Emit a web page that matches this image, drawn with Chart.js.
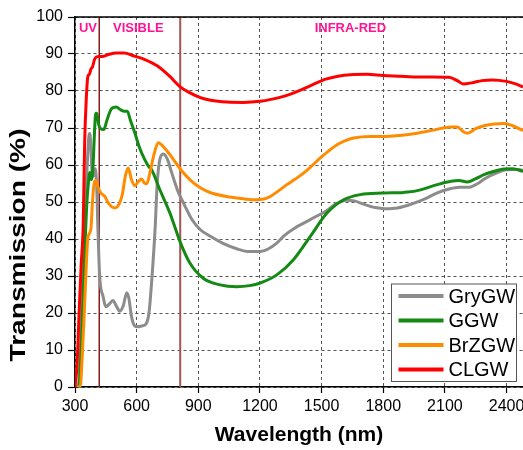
<!DOCTYPE html>
<html>
<head>
<meta charset="utf-8">
<script src="https://cdn.jsdelivr.net/npm/chart.js@4.4.1/dist/chart.umd.min.js"></script>
<style>
html,body{margin:0;padding:0;background:#fff;}
#wrap{width:523px;height:450px;position:relative;}
</style>
</head>
<body>
<div id="wrap"><canvas id="c" width="523" height="450"></canvas></div>
<script>
// ---- data ----
const SERIES_NAMES = ['GryGW', 'GGW', 'BrZGW', 'CLGW'];
const SERIES_COLORS = ['#8c8c8c', '#138a13', '#ff8c00', '#ff0000'];

const GRY_WL = [300,315,325,335,345,355,362,368,372,377,383,390,398,405,412,420,437,450,468,485,500,518,535,552,562,575,591,605,625,645,660,675,690,700,715,730,750,770,800,830,870,910,960,1020,1090,1150,1200,1240,1280,1320,1370,1420,1470,1520,1570,1620,1660,1700,1760,1810,1870,1940,2000,2060,2120,2170,2220,2260,2300,2350,2400,2450,2480];
const GRY_T  = [0,0,8,25,42,55,63,68,68.5,65,58,57,59,55,42,30,24.4,21.7,22.5,23.4,22,20.5,22,25.5,24,19,16.5,16.3,16.5,17,20,30,43,55,62,63,61.5,58,53,49.5,45.2,42.5,40.7,38.8,37.3,36.6,36.6,37.3,38.8,41,43,44.5,46,47.5,49.5,50.5,50.3,49.5,48.5,48.2,48.4,49.5,50.8,52.4,53.5,54,54,55,56.5,57.8,58.7,58.8,58.6];

const GGW_WL = [300,318,330,340,350,358,365,372,380,388,395,401,406,415,425,440,455,475,500,520,540,555,570,591,615,640,660,673,713,762,811,859,924,1006,1087,1150,1201,1282,1363,1445,1526,1607,1689,1800,1900,1960,2063,2130,2169,2209,2250,2290,2340,2388,2430,2480];
const GGW_T  = [0,0,10,25,40,50,55,58,56,60,69,74,74,71,69.8,69.6,72,75,75.7,75,74.5,74.5,72,68.7,64.5,61.4,59.5,58.7,53.3,47,39.3,33.5,29.4,27.6,27.1,27.4,28.1,30.3,34.4,40.7,47,50.6,52,52.4,52.6,53,54.7,55.6,55.8,55.4,56.3,57.4,58.3,58.9,59,58.3];

const BRZ_WL = [300,325,335,345,355,362,370,378,385,393,402,412,425,445,465,494,515,530,545,559,575,591,608,624,640,650,665,685,705,720,762,811,860,908,960,1038,1100,1168,1220,1250,1290,1331,1372,1412,1453,1494,1535,1575,1616,1656,1737,1801,1880,1965,2050,2128,2160,2190,2209,2250,2290,2340,2388,2430,2480];
const BRZ_T  = [0,0,8,20,33,40,41.5,43,50,55,55.8,54,52.5,51.5,49.5,48.4,49.5,52,57,59.2,56,54.4,55.5,56.2,55,55,58,63,66,65.5,62.8,59,56,53.9,52.5,51.5,51,50.6,50.8,51.5,53,54.7,56.2,57.8,59.8,61.9,63.8,65.5,66.6,67.3,67.7,67.7,68,68.6,69.5,70.3,70.3,69,68.6,69.8,70.6,71.1,71.2,70.6,69.3];

const CLG_WL = [300,310,320,330,340,347,355,363,370,378,385,395,405,420,440,460,500,540,580,640,700,760,810,860,910,960,1040,1120,1200,1260,1320,1400,1460,1520,1580,1640,1720,1800,1880,1960,2040,2120,2160,2190,2230,2280,2330,2400,2440,2480];
const CLG_T  = [0,6,20,33,44,66,78,84,84.5,86,86.5,88.5,89.2,89.3,89.4,89.8,90.3,90.3,89.6,88.5,86.8,84,81.2,79.5,78.2,77.5,77,76.9,77.2,77.8,78.6,80.3,81.8,83.2,84,84.4,84.5,84.2,84,83.8,83.8,83.7,82.8,81.9,82.2,82.8,83,82.6,82,81.1];

const REGION_LINES = [418, 812];
const REGION_LABELS = ['UV', 'VISIBLE', 'INFRA-RED'];
const REGION_LABEL_X = [363, 608, 1640];

const X_TICKS = [300, 600, 900, 1200, 1500, 1800, 2100, 2400];
const X_MIN = 300, X_MAX = 2480;
const Y_MIN = 0, Y_MAX = 100, Y_STEP = 10;
const X_TITLE = 'Wavelength (nm)';
const Y_TITLE = 'Transmission (%)';

// ---- build ----
const FONT = "'Liberation Sans', Arial, sans-serif";
function pts(wl, t){ return wl.map((w,i)=>({x:w, y:t[i]})); }
const seriesData = [pts(GRY_WL,GRY_T), pts(GGW_WL,GGW_T), pts(BRZ_WL,BRZ_T), pts(CLG_WL,CLG_T)];
const drawOrder = [3,2,1,0];

const datasets = seriesData.map((d,i)=>({
  label: SERIES_NAMES[i],
  data: d,
  borderColor: SERIES_COLORS[i],
  backgroundColor: SERIES_COLORS[i],
  borderWidth: 3,
  pointRadius: 0,
  fill: false,
  cubicInterpolationMode: 'monotone',
  order: drawOrder[i]
}));

const decor = {
  id: 'decor',
  beforeDatasetsDraw(chart){
    const {ctx, chartArea:a, scales:{x}} = chart;
    ctx.save();
    const cols = ['#8b1a1a', '#a65454'];
    const wid = [1.5, 2];
    REGION_LINES.forEach((v,i)=>{
      const px = x.getPixelForValue(v);
      ctx.strokeStyle = cols[i]; ctx.lineWidth = wid[i];
      ctx.beginPath(); ctx.moveTo(px, a.top); ctx.lineTo(px, a.bottom); ctx.stroke();
    });
    ctx.restore();
  },
  afterDatasetsDraw(chart){
    const {ctx, chartArea:a, scales:{x}} = chart;
    ctx.save();
    // top border
    ctx.strokeStyle = '#000'; ctx.lineWidth = 1.5;
    ctx.beginPath(); ctx.moveTo(a.left, a.top); ctx.lineTo(a.right, a.top); ctx.stroke();
    // region labels
    ctx.fillStyle = '#ff1493';
    ctx.font = "bold 13px " + FONT;
    ctx.textAlign = 'center'; ctx.textBaseline = 'middle';
    REGION_LABELS.forEach((t,i)=>{
      ctx.fillText(t, x.getPixelForValue(REGION_LABEL_X[i]), a.top + 11);
    });
    // legend
    const bx = 391.5, by = 284, bw = 125, bh = 97.5;
    ctx.fillStyle = '#fff'; ctx.fillRect(bx, by, bw, bh);
    ctx.strokeStyle = '#555'; ctx.lineWidth = 1;
    ctx.strokeRect(bx, by, bw, bh);
    ctx.font = "20px " + FONT;
    ctx.textAlign = 'left'; ctx.textBaseline = 'middle';
    SERIES_NAMES.forEach((n,i)=>{
      const yy = by + 12 + i*24.5;
      ctx.strokeStyle = SERIES_COLORS[i]; ctx.lineWidth = 4;
      ctx.beginPath(); ctx.moveTo(bx + 7, yy); ctx.lineTo(bx + 52, yy); ctx.stroke();
      ctx.fillStyle = '#000';
      ctx.fillText(n, bx + 57, yy + 1);
    });
    // y axis title (stretched along its length like the reference)
    ctx.translate(19, 245);
    ctx.rotate(-Math.PI/2);
    ctx.font = "bold 22px " + FONT;
    const w = ctx.measureText(Y_TITLE).width;
    ctx.scale(233 / w, 1);
    ctx.fillStyle = '#000';
    ctx.textAlign = 'center'; ctx.textBaseline = 'middle';
    ctx.fillText(Y_TITLE, 0, 0);
    ctx.restore();
  }
};

new Chart(document.getElementById('c'), {
  type: 'line',
  data: { datasets },
  plugins: [decor],
  options: {
    responsive: false,
    animation: false,
    layout: { padding: { top: 17, right: 0, left: 0, bottom: 0 } },
    plugins: { legend: { display: false }, tooltip: { enabled: false } },
    scales: {
      x: {
        type: 'linear', min: X_MIN, max: X_MAX,
        afterFit(s){ s.height = 63; s.paddingRight = 0; s.paddingLeft = 0; },
        afterBuildTicks(s){ s.ticks = X_TICKS.map(v=>({value:v})); },
        ticks: { color: '#000', font: { family: FONT, size: 16 }, padding: 4, maxRotation: 0, autoSkip: false,
                 callback: (v) => String(v) },
        grid: { color: '#555', lineWidth: 1, tickColor: '#000', tickLength: 6, tickWidth: 1.2 },
        border: { color: '#000', width: 1.5, dash: [3,3] },
        title: { display: true, text: X_TITLE, color: '#000', font: { family: FONT, size: 21, weight: 'bold' }, padding: { top: 0, bottom: 2 } }
      },
      y: {
        type: 'linear', min: Y_MIN, max: Y_MAX,
        afterFit(s){ s.width = 75; },
        ticks: { stepSize: Y_STEP, color: '#000', font: { family: FONT, size: 16 }, padding: 5 },
        grid: { color: '#555', lineWidth: 1, tickColor: '#000', tickLength: 7, tickWidth: 1.2 },
        border: { color: '#000', width: 1.5, dash: [3,3] },
        title: { display: false }
      }
    }
  }
});
</script>
</body>
</html>
